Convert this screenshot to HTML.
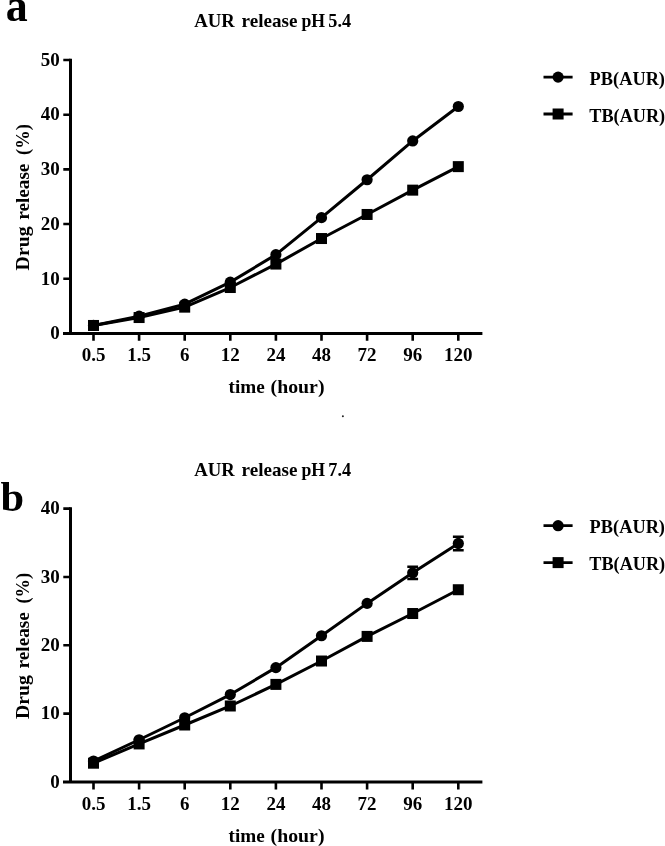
<!DOCTYPE html>
<html><head><meta charset="utf-8"><style>
html,body{margin:0;padding:0;background:#fff;width:665px;height:846px;overflow:hidden}
svg{display:block;will-change:transform}
text{font-family:'Liberation Serif',serif;font-weight:bold;fill:#000}
</style></head><body>
<svg width="665" height="846" viewBox="0 0 665 846">
<text x="5.8" y="20.6" textLength="22" lengthAdjust="spacingAndGlyphs" style="font-size:46px">a</text>
<text x="194.2" y="27.3" textLength="40.6" lengthAdjust="spacingAndGlyphs" style="font-size:19px">AUR</text>
<text x="241.6" y="27.3" textLength="55.8" lengthAdjust="spacingAndGlyphs" style="font-size:19px">release</text>
<text x="301.4" y="27.3" textLength="23.6" lengthAdjust="spacingAndGlyphs" style="font-size:19px">pH</text>
<text x="328.3" y="27.3" textLength="22.8" lengthAdjust="spacingAndGlyphs" style="font-size:19px">5.4</text>
<path d="M70.5 58.7V333.4M63 333.4H482.4" stroke="#000" stroke-width="3" fill="none"/>
<path d="M63.3 278.72H70.5M63.3 224.04H70.5M63.3 169.36H70.5M63.3 114.68H70.5M63.3 60.00H70.5" stroke="#000" stroke-width="2.6" fill="none"/>
<text x="59.8" y="339.20" text-anchor="end" style="font-size:19px">0</text>
<text x="59.8" y="284.52" text-anchor="end" style="font-size:19px">10</text>
<text x="59.8" y="229.84" text-anchor="end" style="font-size:19px">20</text>
<text x="59.8" y="175.16" text-anchor="end" style="font-size:19px">30</text>
<text x="59.8" y="120.48" text-anchor="end" style="font-size:19px">40</text>
<text x="59.8" y="65.80" text-anchor="end" style="font-size:19px">50</text>
<path d="M93.5 333.4V340.79999999999995M139.1 333.4V340.79999999999995M184.7 333.4V340.79999999999995M230.3 333.4V340.79999999999995M275.9 333.4V340.79999999999995M321.5 333.4V340.79999999999995M367.1 333.4V340.79999999999995M412.7 333.4V340.79999999999995M458.3 333.4V340.79999999999995" stroke="#000" stroke-width="2.6" fill="none"/>
<text x="93.5" y="361.1" text-anchor="middle" style="font-size:19px">0.5</text>
<text x="139.1" y="361.1" text-anchor="middle" style="font-size:19px">1.5</text>
<text x="184.7" y="361.1" text-anchor="middle" style="font-size:19px">6</text>
<text x="230.3" y="361.1" text-anchor="middle" style="font-size:19px">12</text>
<text x="275.9" y="361.1" text-anchor="middle" style="font-size:19px">24</text>
<text x="321.5" y="361.1" text-anchor="middle" style="font-size:19px">48</text>
<text x="367.1" y="361.1" text-anchor="middle" style="font-size:19px">72</text>
<text x="412.7" y="361.1" text-anchor="middle" style="font-size:19px">96</text>
<text x="458.3" y="361.1" text-anchor="middle" style="font-size:19px">120</text>
<text x="228.5" y="393" textLength="36.2" lengthAdjust="spacingAndGlyphs" style="font-size:19px">time</text>
<text x="270.6" y="393" textLength="53.9" lengthAdjust="spacingAndGlyphs" style="font-size:19px">(hour)</text>
<text transform="translate(29 0) rotate(-90)" x="-270.4" textLength="44" lengthAdjust="spacingAndGlyphs" style="font-size:19px">Drug</text>
<text transform="translate(29 0) rotate(-90)" x="-219.8" textLength="56.2" lengthAdjust="spacingAndGlyphs" style="font-size:19px">release</text>
<text transform="translate(29 0) rotate(-90)" x="-155" textLength="30.8" lengthAdjust="spacingAndGlyphs" style="font-size:19px">(%)</text>
<polyline points="93.50,325.47 139.10,317.54 184.70,307.15 230.30,287.52 275.90,264.07 321.50,238.53 367.10,214.47 412.70,190.14 458.30,166.63" stroke="#000" stroke-width="3" fill="none" stroke-linejoin="round"/>
<polyline points="93.50,325.47 139.10,316.18 184.70,304.20 230.30,282.11 275.90,254.66 321.50,217.64 367.10,179.75 412.70,140.93 458.30,106.48" stroke="#000" stroke-width="3" fill="none" stroke-linejoin="round"/>
<rect x="88.00" y="319.97" width="11" height="11"/>
<rect x="133.60" y="312.04" width="11" height="11"/>
<rect x="179.20" y="301.65" width="11" height="11"/>
<rect x="224.80" y="282.02" width="11" height="11"/>
<rect x="270.40" y="258.57" width="11" height="11"/>
<rect x="316.00" y="233.03" width="11" height="11"/>
<rect x="361.60" y="208.97" width="11" height="11"/>
<rect x="407.20" y="184.64" width="11" height="11"/>
<rect x="452.80" y="161.13" width="11" height="11"/>
<circle cx="93.50" cy="325.47" r="5.6"/>
<circle cx="139.10" cy="316.18" r="5.6"/>
<circle cx="184.70" cy="304.20" r="5.6"/>
<circle cx="230.30" cy="282.11" r="5.6"/>
<circle cx="275.90" cy="254.66" r="5.6"/>
<circle cx="321.50" cy="217.64" r="5.6"/>
<circle cx="367.10" cy="179.75" r="5.6"/>
<circle cx="412.70" cy="140.93" r="5.6"/>
<circle cx="458.30" cy="106.48" r="5.6"/>
<path d="M543.5 77.1H572.6M543.5 114H572.6" stroke="#000" stroke-width="2.8"/>
<circle cx="558.1" cy="77.1" r="5.6"/>
<rect x="552.60" y="108.50" width="11" height="11"/>
<text x="589.6" y="84.8" textLength="75.4" lengthAdjust="spacingAndGlyphs" style="font-size:19px">PB(AUR)</text>
<text x="589.3000000000001" y="121.5" textLength="75.9" lengthAdjust="spacingAndGlyphs" style="font-size:19px">TB(AUR)</text>
<text x="0.6" y="511.4" textLength="23.6" lengthAdjust="spacingAndGlyphs" style="font-size:42.5px">b</text>
<text x="194.2" y="475.90000000000003" textLength="40.6" lengthAdjust="spacingAndGlyphs" style="font-size:19px">AUR</text>
<text x="241.6" y="475.90000000000003" textLength="55.8" lengthAdjust="spacingAndGlyphs" style="font-size:19px">release</text>
<text x="301.4" y="475.90000000000003" textLength="23.6" lengthAdjust="spacingAndGlyphs" style="font-size:19px">pH</text>
<text x="328.3" y="475.90000000000003" textLength="22.8" lengthAdjust="spacingAndGlyphs" style="font-size:19px">7.4</text>
<path d="M70.5 507.3V782.0M63 782.0H482.4" stroke="#000" stroke-width="3" fill="none"/>
<path d="M63.3 713.65H70.5M63.3 645.30H70.5M63.3 576.95H70.5M63.3 508.60H70.5" stroke="#000" stroke-width="2.6" fill="none"/>
<text x="59.8" y="787.80" text-anchor="end" style="font-size:19px">0</text>
<text x="59.8" y="719.45" text-anchor="end" style="font-size:19px">10</text>
<text x="59.8" y="651.10" text-anchor="end" style="font-size:19px">20</text>
<text x="59.8" y="582.75" text-anchor="end" style="font-size:19px">30</text>
<text x="59.8" y="514.40" text-anchor="end" style="font-size:19px">40</text>
<path d="M93.5 782.0V789.4M139.1 782.0V789.4M184.7 782.0V789.4M230.3 782.0V789.4M275.9 782.0V789.4M321.5 782.0V789.4M367.1 782.0V789.4M412.7 782.0V789.4M458.3 782.0V789.4" stroke="#000" stroke-width="2.6" fill="none"/>
<text x="93.5" y="809.7" text-anchor="middle" style="font-size:19px">0.5</text>
<text x="139.1" y="809.7" text-anchor="middle" style="font-size:19px">1.5</text>
<text x="184.7" y="809.7" text-anchor="middle" style="font-size:19px">6</text>
<text x="230.3" y="809.7" text-anchor="middle" style="font-size:19px">12</text>
<text x="275.9" y="809.7" text-anchor="middle" style="font-size:19px">24</text>
<text x="321.5" y="809.7" text-anchor="middle" style="font-size:19px">48</text>
<text x="367.1" y="809.7" text-anchor="middle" style="font-size:19px">72</text>
<text x="412.7" y="809.7" text-anchor="middle" style="font-size:19px">96</text>
<text x="458.3" y="809.7" text-anchor="middle" style="font-size:19px">120</text>
<text x="228.5" y="841.6" textLength="36.2" lengthAdjust="spacingAndGlyphs" style="font-size:19px">time</text>
<text x="270.6" y="841.6" textLength="53.9" lengthAdjust="spacingAndGlyphs" style="font-size:19px">(hour)</text>
<text transform="translate(29 448.6) rotate(-90)" x="-270.4" textLength="44" lengthAdjust="spacingAndGlyphs" style="font-size:19px">Drug</text>
<text transform="translate(29 448.6) rotate(-90)" x="-219.8" textLength="56.2" lengthAdjust="spacingAndGlyphs" style="font-size:19px">release</text>
<text transform="translate(29 448.6) rotate(-90)" x="-155" textLength="30.8" lengthAdjust="spacingAndGlyphs" style="font-size:19px">(%)</text>
<polyline points="93.50,763.20 139.10,743.93 184.70,725.00 230.30,705.99 275.90,684.40 321.50,661.02 367.10,636.41 412.70,613.52 458.30,589.73" stroke="#000" stroke-width="3" fill="none" stroke-linejoin="round"/>
<polyline points="93.50,761.02 139.10,739.76 184.70,717.75 230.30,694.58 275.90,667.65 321.50,635.73 367.10,603.40 412.70,572.85 458.30,543.46" stroke="#000" stroke-width="3" fill="none" stroke-linejoin="round"/>
<path d="M412.7 566.77V578.93M407.3 566.77H418.09999999999997M407.3 578.93H418.09999999999997M458.3 536.69V550.23M452.90000000000003 536.69H463.7M452.90000000000003 550.23H463.7" stroke="#000" stroke-width="2.5" fill="none"/>
<rect x="88.00" y="757.70" width="11" height="11"/>
<rect x="133.60" y="738.43" width="11" height="11"/>
<rect x="179.20" y="719.50" width="11" height="11"/>
<rect x="224.80" y="700.49" width="11" height="11"/>
<rect x="270.40" y="678.90" width="11" height="11"/>
<rect x="316.00" y="655.52" width="11" height="11"/>
<rect x="361.60" y="630.91" width="11" height="11"/>
<rect x="407.20" y="608.02" width="11" height="11"/>
<rect x="452.80" y="584.23" width="11" height="11"/>
<circle cx="93.50" cy="761.02" r="5.6"/>
<circle cx="139.10" cy="739.76" r="5.6"/>
<circle cx="184.70" cy="717.75" r="5.6"/>
<circle cx="230.30" cy="694.58" r="5.6"/>
<circle cx="275.90" cy="667.65" r="5.6"/>
<circle cx="321.50" cy="635.73" r="5.6"/>
<circle cx="367.10" cy="603.40" r="5.6"/>
<circle cx="412.70" cy="572.85" r="5.6"/>
<circle cx="458.30" cy="543.46" r="5.6"/>
<path d="M543.5 525.7H572.6M543.5 562.6H572.6" stroke="#000" stroke-width="2.8"/>
<circle cx="558.1" cy="525.7" r="5.6"/>
<rect x="552.60" y="557.10" width="11" height="11"/>
<text x="589.6" y="533.4" textLength="75.4" lengthAdjust="spacingAndGlyphs" style="font-size:19px">PB(AUR)</text>
<text x="589.3000000000001" y="570.1" textLength="75.9" lengthAdjust="spacingAndGlyphs" style="font-size:19px">TB(AUR)</text>
<circle cx="342.9" cy="416.2" r="1" fill="#222"/>
</svg>
</body></html>
